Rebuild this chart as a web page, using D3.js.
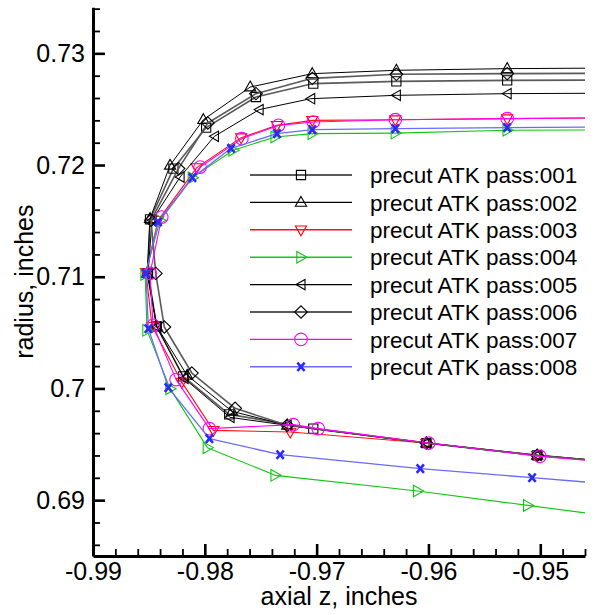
<!DOCTYPE html>
<html>
<head>
<meta charset="utf-8">
<script src="https://cdn.jsdelivr.net/npm/d3@7"></script>
<style>
  html, body { margin: 0; padding: 0; background: #fff; }
  svg { display: block; }
  text { font-family: "Liberation Sans", Arial, sans-serif; fill: #000; }
</style>
</head>
<body>
<svg id="chart" width="595" height="615"></svg>
<script>
// ---------------- data ----------------
const seriesNames = ["precut ATK pass:001","precut ATK pass:002","precut ATK pass:003","precut ATK pass:004",
                     "precut ATK pass:005","precut ATK pass:006","precut ATK pass:007","precut ATK pass:008"];
// [axial z, radius] pairs, traced from top-right, round the nose, to bottom-right
const pass001 = [[-0.940,0.72762],[-0.95296,0.72758],[-0.96287,0.72749],[-0.97030,0.72729],[-0.97543,0.72609],[-0.97988,0.72335],[-0.98281,0.71968],[-0.98490,0.71514],[-0.98508,0.71030],[-0.98430,0.70556],[-0.98194,0.70108],[-0.97782,0.69768],[-0.97030,0.69640],[-0.96019,0.69511],[-0.95028,0.69401],[-0.940,0.69311]];
const pass002 = [[-0.940,0.72870],[-0.95296,0.72863],[-0.96287,0.72848],[-0.97039,0.72818],[-0.97594,0.72698],[-0.98013,0.72406],[-0.98311,0.71997],[-0.98490,0.71520],[-0.98517,0.71030],[-0.98430,0.70556],[-0.98158,0.70117],[-0.97756,0.69795],[-0.97263,0.69670],[-0.96019,0.69511],[-0.95028,0.69401],[-0.940,0.69311]];
const pass003 = [[-0.940,0.72425],[-0.95296,0.72415],[-0.96296,0.72406],[-0.97039,0.72400],[-0.97355,0.72355],[-0.97675,0.72245],[-0.98072,0.71977],[-0.98418,0.71505],[-0.98526,0.71039],[-0.98472,0.70556],[-0.98206,0.70057],[-0.97923,0.69625],[-0.97236,0.69610],[-0.96019,0.69511],[-0.95028,0.69401],[-0.940,0.69311]];
const pass004 = [[-0.940,0.72315],[-0.95296,0.72311],[-0.96296,0.72286],[-0.97039,0.72281],[-0.97371,0.72251],[-0.97747,0.72132],[-0.98111,0.71887],[-0.98400,0.71505],[-0.98534,0.71021],[-0.98517,0.70520],[-0.98311,0.69998],[-0.97977,0.69470],[-0.97371,0.69222],[-0.96097,0.69082],[-0.95112,0.68953],[-0.940,0.68807]];
const pass005 = [[-0.940,0.72645],[-0.95296,0.72639],[-0.96287,0.72624],[-0.97053,0.72594],[-0.97514,0.72496],[-0.97914,0.72257],[-0.98221,0.71893],[-0.98472,0.71505],[-0.98508,0.71030],[-0.98430,0.70550],[-0.98185,0.70090],[-0.97774,0.69741],[-0.97263,0.69670],[-0.96019,0.69511],[-0.95028,0.69401],[-0.940,0.69311]];
const pass006 = [[-0.940,0.72822],[-0.95296,0.72818],[-0.96287,0.72812],[-0.97039,0.72776],[-0.97543,0.72639],[-0.97973,0.72376],[-0.98236,0.71968],[-0.98481,0.71505],[-0.98439,0.71030],[-0.98362,0.70550],[-0.98116,0.70138],[-0.97729,0.69822],[-0.97263,0.69670],[-0.96019,0.69511],[-0.95028,0.69401],[-0.940,0.69311]];
const pass007 = [[-0.940,0.72425],[-0.95296,0.72415],[-0.96296,0.72406],[-0.97030,0.72385],[-0.97341,0.72355],[-0.97669,0.72236],[-0.98042,0.71982],[-0.98385,0.71534],[-0.98490,0.71030],[-0.98463,0.70565],[-0.98257,0.70079],[-0.97959,0.69640],[-0.97209,0.69676],[-0.96986,0.69640],[-0.95998,0.69511],[-0.95004,0.69392],[-0.940,0.69305]];
const pass008 = [[-0.940,0.72342],[-0.95296,0.72335],[-0.96296,0.72326],[-0.97039,0.72317],[-0.97355,0.72281],[-0.97765,0.72150],[-0.98111,0.71887],[-0.98418,0.71490],[-0.98526,0.71030],[-0.98505,0.70535],[-0.98326,0.70007],[-0.97959,0.69551],[-0.97326,0.69407],[-0.96073,0.69282],[-0.95073,0.69201],[-0.940,0.69114]];

const xMajorTicks = [-0.99, -0.98, -0.97, -0.96, -0.95];
const yMajorTicks = [0.69, 0.70, 0.71, 0.72, 0.73];
const xTitle = "axial z, inches";
const yTitle = "radius, inches";

// ---------------- styling ----------------
const styles = [
  {data: pass001, color: "#5a5a5a", width: 1.6, marker: "square",   mcolor: "#000"},
  {data: pass002, color: "#000",    width: 1.0, marker: "triUp",    mcolor: "#000"},
  {data: pass003, color: "#ff1010", width: 1.1, marker: "triDown",  mcolor: "#ff0000"},
  {data: pass004, color: "#10c810", width: 1.1, marker: "triRight", mcolor: "#10c810"},
  {data: pass005, color: "#000",    width: 1.0, marker: "triLeft",  mcolor: "#000"},
  {data: pass006, color: "#5a5a5a", width: 1.6, marker: "diamond",  mcolor: "#000"},
  {data: pass007, color: "#ff00ff", width: 1.1, marker: "circle",   mcolor: "#ff00ff"},
  {data: pass008, color: "#6a6aff", width: 1.3, marker: "cross",    mcolor: "#2a2aff"}
];

const svg = d3.select("#chart");
const W = 595, H = 615;
const pLeft = 93, pRight = 585, pTop = 7.3, pBottom = 556;

const x = d3.scaleLinear().domain([-0.99, -0.946]).range([pLeft, pRight]);
const y = d3.scaleLinear().domain([0.685, 0.73412]).range([pBottom, pTop]);

svg.append("rect").attr("width", W).attr("height", H).attr("fill", "#fff");

svg.append("defs").append("clipPath").attr("id", "plotclip")
  .append("rect").attr("x", pLeft).attr("y", pTop).attr("width", pRight - pLeft).attr("height", pBottom - pTop);

// marker shapes
function markerPath(kind) {
  switch (kind) {
    case "square":   return "M-4.6,-4.6H4.6V4.6H-4.6Z";
    case "triUp":    return "M0,-6L5.6,3.8H-5.6Z";
    case "triDown":  return "M0,6L5.6,-3.8H-5.6Z";
    case "triRight": return "M6,0L-4.2,5.8V-5.8Z";
    case "triLeft":  return "M-5,0L4,5.2V-5.2Z";
    case "diamond":  return "M0,-6.2L6.4,0L0,6.2L-6.4,0Z";
    case "circle":   return "M6.3,0A6.3,6.3 0 1,1 -6.3,0A6.3,6.3 0 1,1 6.3,0Z";
    case "cross":    return "M-3.6,-4.2L3.6,4.2M3.6,-4.2L-3.6,4.2";
  }
}
function drawMarker(g, kind, color, cx, cy) {
  g.append("path")
    .attr("d", markerPath(kind))
    .attr("transform", `translate(${cx},${cy})`)
    .attr("fill", "none")
    .attr("stroke", color)
    .attr("stroke-width", kind === "cross" ? 2.6 : 1.1);
}

// ---------------- series ----------------
const plot = svg.append("g").attr("clip-path", "url(#plotclip)");
const line = d3.line().x(d => x(d[0])).y(d => y(d[1]));

styles.forEach(s => {
  const g = plot.append("g");
  g.append("path").datum(s.data)
    .attr("d", line)
    .attr("fill", "none")
    .attr("stroke", s.color)
    .attr("stroke-width", s.width)
    .attr("stroke-linejoin", "round");
  s.data.forEach(d => drawMarker(g, s.marker, s.mcolor, x(d[0]), y(d[1])));
});

// ---------------- axes ----------------
const fmt = d => String(+d.toFixed(3));
const xMinor = d3.range(-0.988, -0.9455, 0.002).filter(v => !xMajorTicks.some(m => Math.abs(m - v) < 1e-6));
const yMinor = d3.range(0.686, 0.7345, 0.002).filter(v => !yMajorTicks.some(m => Math.abs(m - v) < 1e-6));

const axFont = "25px";

// x axis
const gx = svg.append("g").attr("transform", `translate(0,${pBottom})`);
gx.call(d3.axisBottom(x).tickValues(xMinor).tickSize(-7).tickSizeOuter(0).tickFormat(""))
  .call(g => g.select(".domain").remove())
  .call(g => g.selectAll("line").attr("stroke", "#000").attr("stroke-width", 1.8));
const gxM = svg.append("g").attr("transform", `translate(0,${pBottom})`);
gxM.call(d3.axisBottom(x).tickValues(xMajorTicks).tickSize(-12).tickSizeOuter(0).tickPadding(6).tickFormat(fmt))
  .call(g => g.select(".domain").attr("stroke", "#000").attr("stroke-width", 3))
  .call(g => g.selectAll("line").attr("stroke", "#000").attr("stroke-width", 2.6))
  .call(g => g.selectAll("text").attr("font-size", axFont).attr("font-family", "Liberation Sans, Arial, sans-serif").attr("fill", "#000"));

// y axis
const gy = svg.append("g").attr("transform", `translate(${pLeft},0)`);
gy.call(d3.axisLeft(y).tickValues(yMinor).tickSize(-7).tickSizeOuter(0).tickFormat(""))
  .call(g => g.select(".domain").remove())
  .call(g => g.selectAll("line").attr("stroke", "#000").attr("stroke-width", 1.8));
const gyM = svg.append("g").attr("transform", `translate(${pLeft},0)`);
gyM.call(d3.axisLeft(y).tickValues(yMajorTicks).tickSize(-12).tickSizeOuter(0).tickPadding(8).tickFormat(fmt))
  .call(g => g.select(".domain").attr("stroke", "#000").attr("stroke-width", 3))
  .call(g => g.selectAll("line").attr("stroke", "#000").attr("stroke-width", 2.6))
  .call(g => g.selectAll("text").attr("font-size", axFont).attr("font-family", "Liberation Sans, Arial, sans-serif").attr("fill", "#000"));

// titles
svg.append("text")
  .attr("x", (pLeft + pRight) / 2).attr("y", 605)
  .attr("text-anchor", "middle").attr("font-size", "25px")
  .text(xTitle);
svg.append("text")
  .attr("transform", `translate(33,${(pTop + pBottom) / 2}) rotate(-90)`)
  .attr("text-anchor", "middle").attr("font-size", "25px")
  .text(yTitle);

// ---------------- legend ----------------
const leg = svg.append("g");
const legY0 = 175, legDy = 27.4;
styles.forEach((s, i) => {
  const yy = legY0 + i * legDy;
  leg.append("line").attr("x1", 250).attr("x2", 352).attr("y1", yy).attr("y2", yy)
    .attr("stroke", s.color).attr("stroke-width", s.width + 0.3);
  drawMarker(leg, s.marker, s.mcolor, 301, yy);
  leg.append("text").attr("x", 370).attr("y", yy).attr("dy", "0.36em")
    .attr("font-size", "22.5px").text(seriesNames[i]);
});
</script>
</body>
</html>
